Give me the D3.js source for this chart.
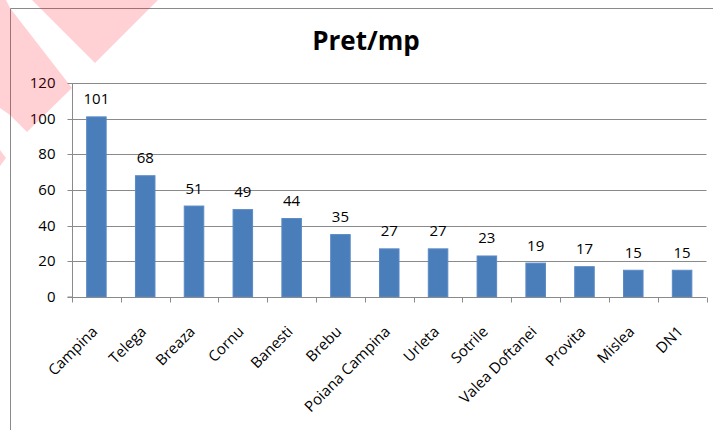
<!DOCTYPE html>
<html>
<head>
<meta charset="utf-8">
<script src="https://cdn.jsdelivr.net/npm/d3@7"></script>
<style>
  body { margin: 0; background: #fff; }
  svg { display: block; font-family: "Open Sans", sans-serif; }
</style>
</head>
<body>
<div id="chart"></div>
<script>
// date grafic: pret pe mp pe localitate
const localitati = ['Campina', 'Telega', 'Breaza', 'Cornu', 'Banesti', 'Brebu', 'Poiana Campina',
  'Urleta', 'Sotrile', 'Valea Doftanei', 'Provita', 'Mislea', 'DN1'];
const preturi = [101, 68, 51, 49, 44, 35, 27, 27, 23, 19, 17, 15, 15];
const yTicks = [0, 20, 40, 60, 80, 100, 120];
const titlu = 'Pret/mp';

function drawChart() {
  const width = 713, height = 430;
  const plot = { left: 72, right: 706.5, top: 83, bottom: 297 };

  const svg = d3.select('#chart').append('svg')
    .attr('width', width)
    .attr('height', height);

  // chenar exterior
  svg.append('path')
    .attr('d', `M10.5,${height} V8.5 H${width}`)
    .attr('fill', 'none')
    .attr('stroke', '#8a8a8a');

  const x = d3.scaleBand().domain(localitati).range([plot.left, plot.right]).paddingInner(0.6).paddingOuter(0.3);
  const xEdges = d3.scaleLinear().domain([0, localitati.length]).range([plot.left, plot.right]);
  const y = d3.scaleLinear().domain([0, 120]).range([plot.bottom, plot.top]);

  // grila orizontala
  svg.append('g')
    .selectAll('line')
    .data(yTicks.filter(d => d > 0))
    .enter().append('line')
    .attr('x1', plot.left).attr('x2', plot.right)
    .attr('y1', d => Math.round(y(d)) + 0.5).attr('y2', d => Math.round(y(d)) + 0.5)
    .attr('stroke', '#8a8a8a');

  // axa Y
  const yAxis = d3.axisLeft(y).tickValues(yTicks).tickSize(5).tickPadding(12);
  const gy = svg.append('g')
    .attr('transform', `translate(${plot.left + 0.5},0)`)
    .call(yAxis);
  gy.select('.domain').attr('stroke', '#8a8a8a').attr('d', `M-5,${plot.bottom}H0V${plot.top}`);
  gy.selectAll('.tick line').attr('stroke', '#8a8a8a');
  gy.selectAll('.tick')
    .attr('transform', d => `translate(0,${Math.round(y(d)) + 0.5})`);
  gy.selectAll('.tick text')
    .attr('font-family', '"Open Sans", sans-serif')
    .attr('font-size', 15)
    .attr('fill', '#000');

  // bare
  svg.append('g')
    .selectAll('rect')
    .data(preturi)
    .enter().append('rect')
    .attr('x', (d, i) => x(localitati[i]))
    .attr('width', x.bandwidth())
    .attr('y', d => y(d))
    .attr('height', d => plot.bottom - y(d))
    .attr('fill', '#4a7ebb')
    .attr('stroke', '#5a8ac6')
    .attr('stroke-width', 1);

  // axa X
  const gx = svg.append('g').attr('transform', `translate(0,${plot.bottom + 0.5})`);
  gx.append('line')
    .attr('x1', plot.left).attr('x2', plot.right)
    .attr('stroke', '#8a8a8a');
  gx.selectAll('.tk')
    .data(d3.range(localitati.length + 1))
    .enter().append('line')
    .attr('x1', d => Math.round(xEdges(d)) + 0.5).attr('x2', d => Math.round(xEdges(d)) + 0.5)
    .attr('y1', 0).attr('y2', 5)
    .attr('stroke', '#8a8a8a');
  gx.selectAll('.lbl')
    .data(localitati)
    .enter().append('text')
    .attr('transform', d => `translate(${x(d) + x.bandwidth() / 2 + 2},${35}) rotate(-45)`)
    .attr('text-anchor', 'end')
    .attr('font-size', 15)
    .attr('fill', '#000')
    .text(d => d);

  // etichete valori
  svg.append('g')
    .selectAll('text')
    .data(preturi)
    .enter().append('text')
    .attr('x', (d, i) => x(localitati[i]) + x.bandwidth() / 2)
    .attr('y', d => y(d) - 12.5)
    .attr('text-anchor', 'middle')
    .attr('font-size', 15)
    .attr('fill', '#000')
    .text(d => d);

  // titlu
  svg.append('text')
    .attr('x', 366)
    .attr('y', 50)
    .attr('text-anchor', 'middle')
    .attr('font-size', 26)
    .attr('font-weight', 'bold')
    .attr('fill', '#000')
    .text(titlu);

  // banda roz din colt (decor)
  const roz = svg.append('g').attr('fill', 'rgb(255,0,20)').attr('fill-opacity', 0.18);
  roz.append('polygon').attr('points', '0,0 6,0 10,8 72,88 27,132 10,115 0,108');
  roz.append('polygon').attr('points', '32,0 158,0 95,63');
  roz.append('polygon').attr('points', '0,150 6,158 0,166');
}

window.addEventListener('DOMContentLoaded', drawChart);
</script>
</body>
</html>
